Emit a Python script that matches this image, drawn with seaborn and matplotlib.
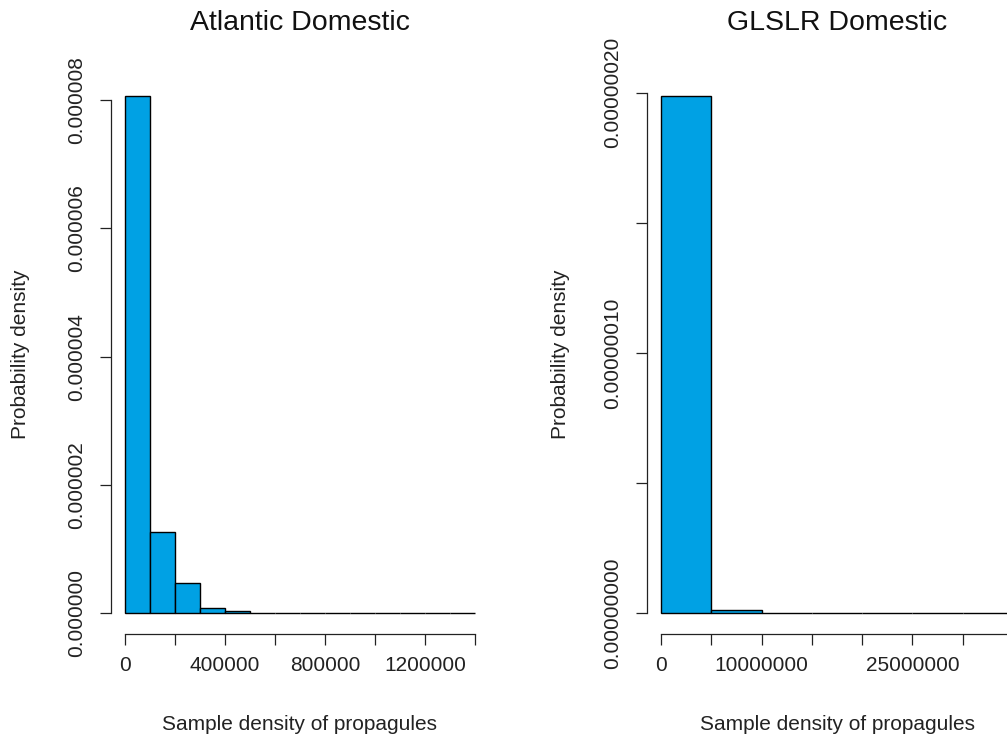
import numpy as np
import pandas as pd
import matplotlib
matplotlib.use("Agg")
import matplotlib.pyplot as plt
import seaborn as sns

# Atlantic domestic: bin edges (propagules) and probability densities per bin
atl_edges = [0, 100000, 200000, 300000, 400000, 500000, 600000, 700000,
             800000, 900000, 1000000, 1100000, 1200000, 1300000, 1400000]
atl_density = [8.07e-6, 1.27e-6, 0.47e-6, 0.085e-6, 0.035e-6, 0.012e-6,
               0.008e-6, 0.006e-6, 0.004e-6, 0.003e-6, 0.002e-6, 0.002e-6,
               0.001e-6, 0.001e-6]

# GLSLR domestic: bin edges (propagules) and probability densities per bin
gl_edges = [0, 5000000, 10000000, 15000000, 20000000, 25000000, 30000000, 35000000]
gl_density = [1.988e-7, 1.2e-9, 4e-11, 2e-11, 1e-11, 1e-11, 1e-11]

atl_xticks = [0, 200000, 400000, 600000, 800000, 1000000, 1200000, 1400000]
atl_xticklabels = ["0", "", "400000", "", "800000", "", "1200000", ""]
atl_yticks = [0, 2e-6, 4e-6, 6e-6, 8e-6]
atl_yticklabels = ["0.000000", "0.000002", "0.000004", "0.000006", "0.000008"]

gl_xticks = [0, 5000000, 10000000, 15000000, 20000000, 25000000, 30000000, 35000000]
gl_xticklabels = ["0", "", "10000000", "", "", "25000000", "", ""]
gl_yticks = [0, 5e-8, 1e-7, 1.5e-7, 2e-7]
gl_yticklabels = ["0.00000000", "", "0.00000010", "", "0.00000020"]

titles = ["Atlantic Domestic", "GLSLR Domestic"]
xlabel = "Sample density of propagules"
ylabel = "Probability density"

sns.set_style("ticks")
plt.rcParams["font.family"] = ["Liberation Sans", "DejaVu Sans"]

FILL = "#00A1E4"
W, H = 1007, 742
fig = plt.figure(figsize=(W / 100, H / 100), dpi=100)


def px_axes(x0, y0, x1, y1):
    return fig.add_axes([x0 / W, 1 - y1 / H, (x1 - x0) / W, (y1 - y0) / H])


ax1 = px_axes(111, 75, 489, 634)
ax2 = px_axes(647, 75, 1027, 634)

panels = [
    (ax1, atl_edges, atl_density, atl_xticks, atl_xticklabels, atl_yticks, atl_yticklabels, titles[0]),
    (ax2, gl_edges, gl_density, gl_xticks, gl_xticklabels, gl_yticks, gl_yticklabels, titles[1]),
]

for ax, edges, dens, xt, xtl, yt, ytl, title in panels:
    centers = [(a + b) / 2 for a, b in zip(edges[:-1], edges[1:])]
    df = pd.DataFrame({"x": centers, "w": dens})
    sns.histplot(data=df, x="x", weights="w", bins=list(edges), stat="count",
                 color=FILL, edgecolor="black", linewidth=1.0, alpha=1.0, ax=ax)

    # R-style limits: 4% padding around the data range
    xr = edges[-1] - edges[0]
    ymax = max(dens)
    ax.set_xlim(edges[0] - 0.04 * xr, edges[-1] + 0.04 * xr)
    ax.set_ylim(-0.04 * ymax, 1.04 * ymax)

    ax.set_xticks(xt)
    ax.set_xticklabels(xtl)
    ax.set_yticks(yt)
    ax.set_yticklabels(ytl)

    for s in ["top", "right"]:
        ax.spines[s].set_visible(False)
    ax.spines["left"].set_bounds(yt[0], yt[-1])
    ax.spines["bottom"].set_bounds(xt[0], xt[-1])
    for s in ["left", "bottom"]:
        ax.spines[s].set_linewidth(0.9)
        ax.spines[s].set_color("#222222")

    ax.tick_params(axis="both", direction="out", length=8, width=0.9,
                   color="#222222", labelsize=15, labelcolor="#222222")
    ax.tick_params(axis="x", pad=8)
    ax.tick_params(axis="y", pad=10, labelrotation=90)
    for lab in ax.get_yticklabels():
        lab.set_va("center")

    ax.set_xlabel(xlabel, fontsize=15, color="#222222")
    ax.xaxis.label.set_va("center")
    ax.xaxis.set_label_coords(0.5, -(724 - 634) / 559)
    ax.set_ylabel(ylabel, fontsize=15, color="#222222")
    ax.yaxis.label.set_va("center")
    ax.set_title("")
    ax.text(0.5, (634 - 23) / 559, title, transform=ax.transAxes,
            ha="center", va="center", fontsize=20.5, color="#111111")

ax1.yaxis.set_label_coords((21 - 111) / 378, 0.5)
ax2.yaxis.set_label_coords((561 - 647) / 380, 0.5)

fig.savefig("out.png", dpi=100)
